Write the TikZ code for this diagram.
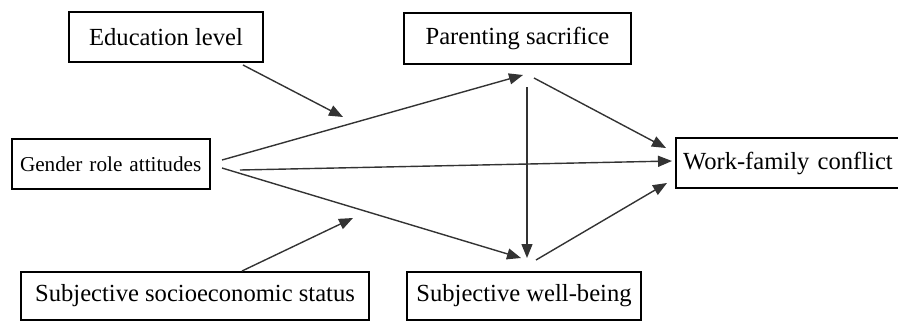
\documentclass[tikz,border=0pt]{standalone}
\usepackage{fontspec}
\setmainfont{Liberation Serif}
\usetikzlibrary{arrows.meta}
\begin{document}
\begin{tikzpicture}[x=1pt,y=-1pt,
  vbox/.style={draw=black,line width=1.6pt,inner sep=0pt,font=\fontsize{24.6}{28}\selectfont},
  conn/.style={draw=black!80,line width=1.4pt,-{Triangle[length=14pt,width=11pt]}}]
\useasboundingbox (0,0) rectangle (898,322);
\node[vbox,minimum width=194,minimum height=50] (edu) at (166,37) {Education level};
\node[vbox,minimum width=227,minimum height=51] (par) at (517.5,38.5) {Parenting sacrifice};
\node[vbox,minimum width=198,minimum height=50,text width=182,align=left,font=\fontsize{21.2}{24}\selectfont] (gen) at (111,164) {Gender role attitudes};
\node[vbox,minimum width=234,minimum height=50,text width=220,align=left] (wfc) at (793,163) {Work-family conflict};
\node[vbox,minimum width=348,minimum height=48] (ses) at (195,296) {Subjective socioeconomic status};
\node[vbox,minimum width=234,minimum height=48] (swb) at (524,296) {Subjective well-being};
% connector end points
\coordinate (e1) at (243,65);  \coordinate (e2) at (343,117);
\coordinate (g1) at (222,160); \coordinate (p1) at (523,75);
\coordinate (g2) at (240,170); \coordinate (w1) at (672,161);
\coordinate (g3) at (222,168); \coordinate (s1) at (521,258);
\coordinate (p2) at (534,78);  \coordinate (w2) at (666,148);
\coordinate (p3) at (527,87);  \coordinate (s2) at (527,258);
\coordinate (s3) at (536,260); \coordinate (w3) at (667,183);
\coordinate (c1) at (242,271); \coordinate (c2) at (353,218);
\draw[conn] (e1) -- (e2);
\draw[conn] (g1) -- (p1);
\draw[conn] (g2) -- (w1);
\draw[conn] (g3) -- (s1);
\draw[conn] (p2) -- (w2);
\draw[conn] (p3) -- (s2);
\draw[conn] (s3) -- (w3);
\draw[conn] (c1) -- (c2);
\end{tikzpicture}
\end{document}
